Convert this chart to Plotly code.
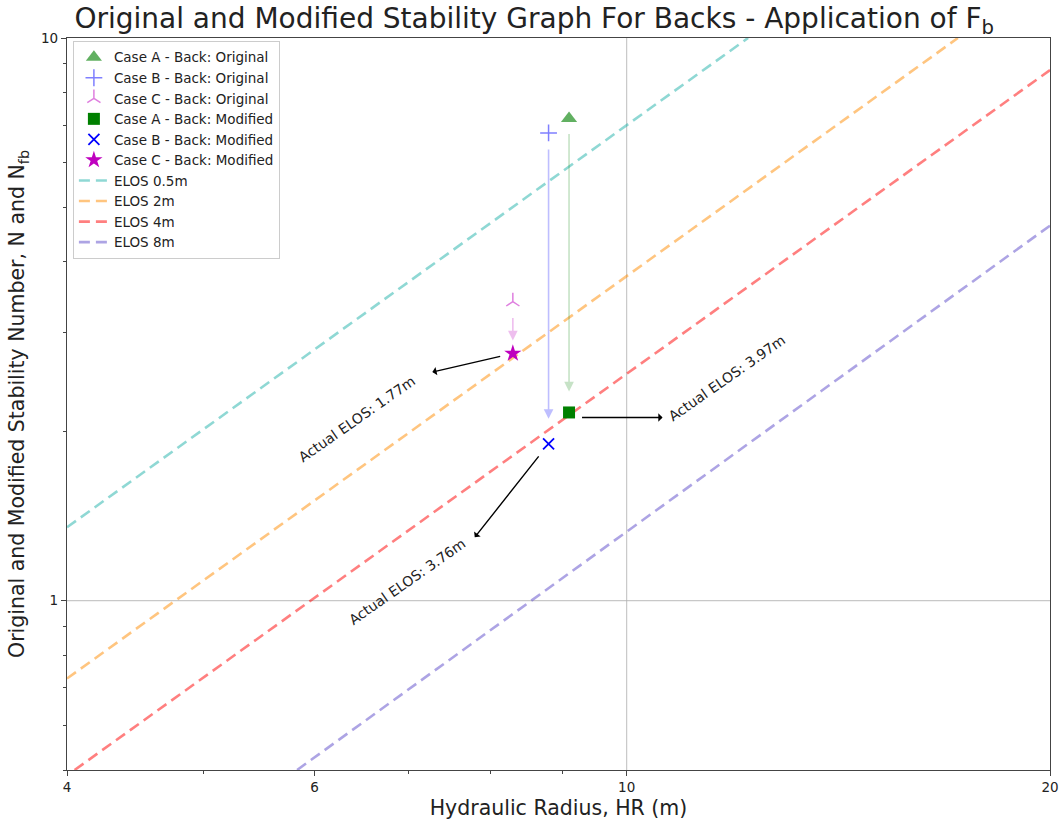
import numpy as np
import plotly.graph_objects as go

# ---------------- data ----------------
case_names = ["Case A - Back", "Case B - Back", "Case C - Back"]
hr_values = [9.10, 8.80, 8.30]            # hydraulic radius (m)
n_original = [7.19, 6.78, 3.40]           # original stability number N
n_modified = [2.16, 1.90, 2.75]           # modified stability number Nfb
actual_elos_text = ["Actual ELOS: 3.97m", "Actual ELOS: 3.76m", "Actual ELOS: 1.77m"]

elos_names = ["ELOS 0.5m", "ELOS 2m", "ELOS 4m", "ELOS 8m"]
elos_hr = [[4.0, 12.2], [4.0, 17.2], [4.05, 20.0], [5.83, 20.0]]
elos_n = [[1.35, 10.0], [0.727, 10.0], [0.5, 8.77], [0.5, 4.64]]

x_tick_vals = [4, 6, 10, 20]
x_minor_vals = [5, 6, 7, 8, 9]
y_tick_vals = [1, 10]
y_minor_vals = [0.5, 0.6, 0.7, 0.8, 0.9, 2, 3, 4, 5, 6, 7, 8, 9]

# ---------------- styles ----------------
FONT = "DejaVu Sans"
orig_symbols = ["triangle-up", "cross-thin", "y-up"]
orig_sizes = [14, 12, 11]
orig_colors = ["rgba(0,128,0,0.62)", "rgba(0,0,255,0.5)", "rgba(191,0,191,0.5)"]
mod_symbols = ["square", "x-thin", "star"]
mod_sizes = [12, 11, 13]
mod_colors = ["#008000", "#0000ff", "#bf00bf"]
arrow_colors = ["rgba(0,128,0,0.22)", "rgba(0,0,255,0.25)", "rgba(191,0,191,0.25)"]
elos_colors = ["rgba(32,178,170,0.5)", "rgba(255,140,0,0.5)",
               "rgba(255,0,0,0.5)", "rgba(106,90,205,0.55)"]
arrow_head_std = [21, 25, 13]
arrow_tail_std = [14, 15, 15]
black_offsets = [(95, 0), (-75, 95), (-82, 19)]
black_yshift = [-5, 0, 0]
black_std = [13, 16, 13]
text_shifts = [(158, 34), (-142, -138), (-156, -66)]

fig = go.Figure()

# ELOS lines (drawn first, listed last in legend)
for i, name in enumerate(elos_names):
    fig.add_trace(go.Scatter(
        x=elos_hr[i], y=elos_n[i], mode="lines", name=name,
        line=dict(color=elos_colors[i], width=2.6, dash="11px,6px"),
        legendrank=100 + i,
    ))

for i, name in enumerate(case_names):
    open_sym = orig_symbols[i] in ("cross-thin", "y-up")
    fig.add_trace(go.Scatter(
        x=[hr_values[i]], y=[n_original[i]], mode="markers",
        name=name + ": Original",
        marker=dict(symbol=orig_symbols[i], size=orig_sizes[i],
                    color=orig_colors[i],
                    line=dict(color=orig_colors[i], width=1.5 if open_sym else 0)),
        legendrank=1 + i,
    ))
for i, name in enumerate(case_names):
    open_sym = mod_symbols[i] == "x-thin"
    fig.add_trace(go.Scatter(
        x=[hr_values[i]], y=[n_modified[i]], mode="markers",
        name=name + ": Modified",
        marker=dict(symbol=mod_symbols[i], size=mod_sizes[i],
                    color=mod_colors[i],
                    line=dict(color=mod_colors[i], width=1.8 if open_sym else 0)),
        legendrank=10 + i,
    ))

annotations = []
for i in range(3):
    lx = np.log10(hr_values[i])
    # faded arrow original -> modified
    annotations.append(dict(
        x=lx, y=np.log10(n_modified[i]), ax=lx, ay=np.log10(n_original[i]),
        xref="x", yref="y", axref="x", ayref="y", text="", showarrow=True,
        arrowhead=2, arrowsize=1.2, arrowwidth=1.6, arrowcolor=arrow_colors[i],
        standoff=arrow_head_std[i], startstandoff=arrow_tail_std[i],
    ))
    # black arrow pointing to label
    annotations.append(dict(
        x=lx, y=np.log10(n_modified[i]), ax=black_offsets[i][0], ay=black_offsets[i][1],
        xref="x", yref="y", text="", showarrow=True, arrowside="start",
        arrowhead=2, arrowsize=1.1, arrowwidth=1.4, arrowcolor="black",
        standoff=black_std[i], yshift=black_yshift[i],
    ))
    annotations.append(dict(
        x=lx, y=np.log10(n_modified[i]), xref="x", yref="y",
        text=actual_elos_text[i], showarrow=False, textangle=-35,
        xshift=text_shifts[i][0], yshift=text_shifts[i][1],
        xanchor="center", yanchor="middle",
        font=dict(family=FONT, size=14, color="#222"),
    ))

axis_common = dict(
    type="log", showgrid=False, zeroline=False, showline=True, mirror=True,
    linecolor="#444", linewidth=1.3, ticks="outside", ticklen=5, tickwidth=1.2,
    tickcolor="#444", tickfont=dict(family=FONT, size=13.5, color="#222"),
    automargin=False,
)

fig.update_layout(
    width=1062, height=825,
    margin=dict(l=67, r=12, t=38, b=55),
    paper_bgcolor="white", plot_bgcolor="white",
    title=dict(text="Original and Modified Stability Graph For Backs - Application of F<sub>b</sub>",
               x=0.503, xanchor="center", y=0.978, yanchor="middle",
               font=dict(family=FONT, size=28, color="#222")),
    xaxis=dict(**axis_common, range=[np.log10(4), np.log10(20)],
               tickmode="array", tickvals=x_tick_vals, ticktext=[str(v) for v in x_tick_vals],
               minor=dict(tickmode="array", tickvals=x_minor_vals, ticks="outside",
                          ticklen=3, tickcolor="#444", showgrid=False),
               title=dict(text="Hydraulic Radius, HR (m)", standoff=6,
                          font=dict(family=FONT, size=20.5, color="#222"))),
    yaxis=dict(**axis_common, range=[np.log10(0.5), 1.0],
               tickmode="array", tickvals=y_tick_vals, ticktext=[str(v) for v in y_tick_vals],
               minor=dict(tickmode="array", tickvals=y_minor_vals, ticks="outside",
                          ticklen=3, tickcolor="#444", showgrid=False),
               title=dict(text="Original and Modified Stability Number, N and N<sub>fb</sub>",
                          standoff=10, font=dict(family=FONT, size=20.5, color="#222"))),
    legend=dict(x=0.006, y=0.996, xanchor="left", yanchor="top",
                bgcolor="rgba(255,255,255,0.9)", bordercolor="#cccccc", borderwidth=1,
                font=dict(family=FONT, size=13.5, color="#222"), tracegroupgap=0),
    showlegend=True,
    annotations=annotations,
    shapes=[
        dict(type="line", xref="x", yref="paper", x0=10, x1=10, y0=0, y1=1,
             line=dict(color="rgba(176,176,176,0.7)", width=1.2), layer="below"),
        dict(type="line", xref="paper", yref="y", x0=0, x1=1, y0=1, y1=1,
             line=dict(color="rgba(176,176,176,0.7)", width=1.2), layer="below"),
    ],
)

fig.write_html("out.html")
